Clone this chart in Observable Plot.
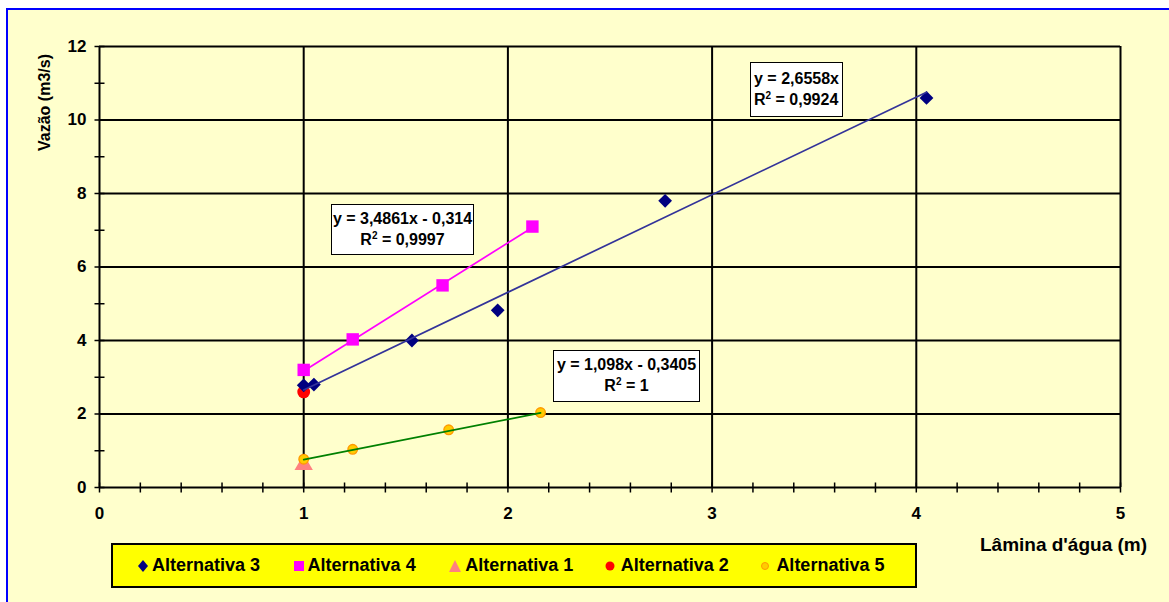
<!DOCTYPE html>
<html>
<head>
<meta charset="utf-8">
<script src="https://cdn.jsdelivr.net/npm/d3@7"></script>
<script src="https://cdn.jsdelivr.net/npm/@observablehq/plot@0.6"></script>
<style>
  html, body { margin: 0; padding: 0; background: #ffffff; overflow: hidden; width: 1169px; height: 602px; }
  #frame { position: absolute; left: 6px; top: 8px; width: 1200px; height: 640px; background: #FFFFCC; border: 2px solid #0000FF; box-sizing: border-box; }
  #chart { position: absolute; left: 0; top: 0; }
  .box { position: absolute; background: #ffffff; border: 1.5px solid #000; box-sizing: border-box;
         font: bold 16px "Liberation Sans", Arial, sans-serif; line-height: 21px; color: #000; white-space: nowrap; }
  .box sup { font-size: 10px; line-height: 0; vertical-align: 6px; }
  #legend { position: absolute; left: 111px; top: 543px; width: 806px; height: 45px; background: #FFFF00;
            border: 2px solid #000; box-sizing: border-box; display: flex; align-items: center; padding-left: 24px;
            font: bold 18px "Liberation Sans", Arial, sans-serif; color: #000; }
  .item { width: 160.5px; display: flex; align-items: center; white-space: nowrap; }
  .item svg { margin-right: 3px; }
</style>
</head>
<body>
<div id="frame"></div>
<div id="chart"></div>
<div id="legend"></div>
<script>
// ---- data ----
const seriesNames = ["Alternativa 3", "Alternativa 4", "Alternativa 1", "Alternativa 2", "Alternativa 5"];
const alt3X = [1.0, 1.05, 1.53, 1.95, 2.77, 4.05];
const alt3Y = [2.78, 2.8, 4.0, 4.82, 7.8, 10.6];
const alt4X = [1.0, 1.24, 1.68, 2.12];
const alt4Y = [3.2, 4.03, 5.5, 7.1];
const alt1X = [1.0];
const alt1Y = [0.62];
const alt2X = [1.0];
const alt2Y = [2.6];
const alt5X = [1.0, 1.24, 1.71, 2.16];
const alt5Y = [0.77, 1.04, 1.57, 2.04];
// trendline equations shown on the chart
const trendSeries = ["Alternativa 3", "Alternativa 4", "Alternativa 5"];
const trendSlope = [2.6558, 3.4861, 1.098];
const trendIntercept = [0, -0.314, -0.3405];
const trendR2 = ["0,9924", "0,9997", "1"];
const trendLabel = ["y = 2,6558x", "y = 3,4861x - 0,314", "y = 1,098x - 0,3405"];
const xTicks = [0, 1, 2, 3, 4, 5];
const yTicks = [0, 2, 4, 6, 8, 10, 12];
const xMinor = d3.range(0, 26).map(i => i / 5);
const yMinor = d3.range(0, 13);

const colors = {
  "Alternativa 3": "#000080",
  "Alternativa 4": "#FF00FF",
  "Alternativa 1": "#FF8080",
  "Alternativa 2": "#FF0000",
  "Alternativa 5": "#FFCC00"
};
const trendColors = {"Alternativa 3": "#333399", "Alternativa 4": "#FF00FF", "Alternativa 5": "#008000"};

const pts = (X, Y, s) => X.map((x, i) => ({x, y: Y[i], s}));
const d3pts = pts(alt3X, alt3Y, "Alternativa 3");
const d4pts = pts(alt4X, alt4Y, "Alternativa 4");
const d1pts = pts(alt1X, alt1Y, "Alternativa 1");
const d2pts = pts(alt2X, alt2Y, "Alternativa 2");
const d5pts = pts(alt5X, alt5Y, "Alternativa 5");
const seriesX = {"Alternativa 3": alt3X, "Alternativa 4": alt4X, "Alternativa 5": alt5X};

const trendLines = trendSeries.flatMap((s, i) => {
  const [x0, x1] = d3.extent(seriesX[s]);
  return [x0, x1].map(x => ({s, x, y: trendSlope[i] * x + trendIntercept[i]}));
});

const tickV = {draw(ctx) { ctx.moveTo(0, -5); ctx.lineTo(0, 5); }};
const tickH = {draw(ctx) { ctx.moveTo(-5, 0); ctx.lineTo(5, 0); }};

const plot = Plot.plot({
  width: 1169,
  height: 602,
  marginLeft: 99,
  marginRight: 49,
  marginTop: 46,
  marginBottom: 115,
  style: {background: "transparent", fontFamily: "'Liberation Sans', Arial, sans-serif", fontSize: "17px", fontWeight: "bold", color: "#000"},
  x: {domain: [0, 5]},
  y: {domain: [0, 12]},
  marks: [
    Plot.gridX(xTicks.filter(d => d > 0), {stroke: "#000", strokeOpacity: 1, strokeWidth: 2}),
    Plot.gridY(yTicks.filter(d => d > 0), {stroke: "#000", strokeOpacity: 1, strokeWidth: 2}),
    Plot.ruleX([0], {stroke: "#000", strokeWidth: 2}),
    Plot.ruleY([0], {stroke: "#000", strokeWidth: 2}),
    Plot.dot(xMinor, {x: d => d, y: 0, symbol: tickV, stroke: "#000", fill: "none", strokeWidth: 1.5}),
    Plot.dot(yMinor, {x: 0, y: d => d, symbol: tickH, stroke: "#000", fill: "none", strokeWidth: 1.5}),
    Plot.axisX(xTicks, {tickSize: 0, tickPadding: 19, label: null, tickFormat: d3.format("d"), fontSize: 17, fontWeight: "bold", fill: "#000"}),
    Plot.axisY(yTicks, {tickSize: 0, tickPadding: 13, label: null, tickFormat: d3.format("d"), fontSize: 17, fontWeight: "bold", fill: "#000"}),
    Plot.dot(d2pts, {x: "x", y: "y", symbol: "circle", r: 6.4, fill: colors["Alternativa 2"]}),
    Plot.dot(d3pts, {x: "x", y: "y", symbol: "diamond2", r: 6.2, fill: colors["Alternativa 3"]}),
    Plot.dot(d4pts, {x: "x", y: "y", symbol: "square", r: 7, fill: colors["Alternativa 4"]}),
    Plot.dot(d1pts, {x: "x", y: "y", symbol: "triangle", r: 6.8, fill: colors["Alternativa 1"]}),
    Plot.dot(d5pts, {x: "x", y: "y", symbol: "circle", r: 4.8, fill: colors["Alternativa 5"], stroke: "#FF9900", strokeWidth: 1.3}),
    Plot.line(trendLines, {x: "x", y: "y", z: "s", stroke: d => trendColors[d.s], strokeWidth: 1.7}),
    Plot.text(["Vazão (m3/s)"], {frameAnchor: "top-left", textAnchor: "middle", lineAnchor: "middle", dx: -55, dy: 56, rotate: -90, fontSize: 16, fontWeight: "bold", fill: "#000"}),
    Plot.text(["Lâmina d'água (m)"], {frameAnchor: "bottom-right", textAnchor: "middle", lineAnchor: "middle", dx: -57, dy: 57, fontSize: 19, fontWeight: "bold", fill: "#000"})
  ]
});
document.getElementById("chart").appendChild(plot);

// trendline equation boxes
const boxGeom = [
  {left: 750, top: 62, width: 93, height: 55, align: "left", pad: "5px 0 0 3px"},
  {left: 331, top: 204, width: 143, height: 51, align: "center", pad: "3px 0 0 0"},
  {left: 553, top: 350, width: 147, height: 52, align: "center", pad: "3px 0 0 0"}
];
trendLabel.forEach((t, i) => {
  const g = boxGeom[i];
  const b = document.createElement("div");
  b.className = "box";
  Object.assign(b.style, {left: g.left + "px", top: g.top + "px", width: g.width + "px", height: g.height + "px", textAlign: g.align, padding: g.pad});
  b.innerHTML = `${t}<br>R<sup>2</sup> = ${trendR2[i]}`;
  document.body.appendChild(b);
});

// legend
const legendSym = {
  "Alternativa 3": `<svg width="12" height="14"><path d="M6 1 L11 7 L6 13 L1 7 Z" fill="${colors["Alternativa 3"]}"/></svg>`,
  "Alternativa 4": `<svg width="12" height="14"><rect x="1" y="2" width="10" height="10" fill="${colors["Alternativa 4"]}"/></svg>`,
  "Alternativa 1": `<svg width="14" height="14"><path d="M7 1 L13 13 L1 13 Z" fill="${colors["Alternativa 1"]}"/></svg>`,
  "Alternativa 2": `<svg width="14" height="14"><circle cx="6" cy="7" r="4.5" fill="${colors["Alternativa 2"]}"/></svg>`,
  "Alternativa 5": `<svg width="14" height="14"><circle cx="6" cy="7" r="3.5" fill="${colors["Alternativa 5"]}" stroke="#FF9900" stroke-width="1"/></svg>`
};
const legend = document.getElementById("legend");
seriesNames.forEach(s => {
  const it = document.createElement("div");
  it.className = "item";
  it.innerHTML = legendSym[s] + `<span>${s}</span>`;
  legend.appendChild(it);
});
</script>
</body>
</html>
